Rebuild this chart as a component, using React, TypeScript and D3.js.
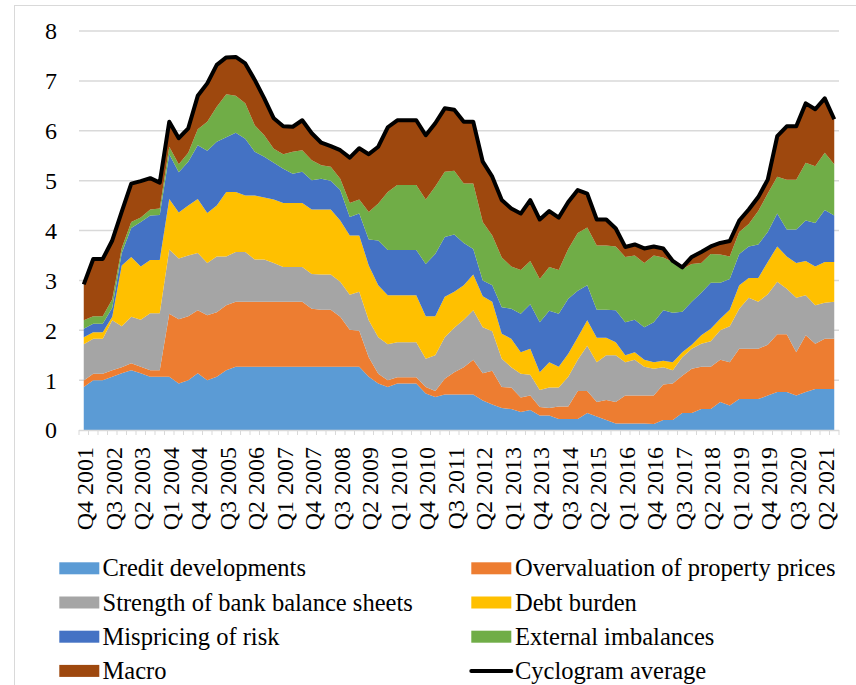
import React from "react";
import * as d3 from "d3";

// Quarterly observations, Q4 2001 – Q3 2021
const quarters: string[] = d3.range(80).map((i) => {
  const q = ((3 + i) % 4) + 1;
  const yr = 2001 + Math.floor((3 + i) / 4);
  return `Q${q} ${yr}`;
});

const tickLabels = [
  "Q4 2001", "Q3 2002", "Q2 2003", "Q1 2004", "Q4 2004", "Q3 2005", "Q2 2006",
  "Q1 2007", "Q4 2007", "Q3 2008", "Q2 2009", "Q1 2010", "Q4 2010", "Q3 2011",
  "Q2 2012", "Q1 2013", "Q4 2013", "Q3 2014", "Q2 2015", "Q1 2016", "Q4 2016",
  "Q3 2017", "Q2 2018", "Q1 2019", "Q4 2019", "Q3 2020", "Q2 2021",
];

const yTicks = [0, 1, 2, 3, 4, 5, 6, 7, 8];

const credit = [
  0.86, 1.0, 1.0, 1.07, 1.14, 1.2, 1.14, 1.07, 1.07, 1.07,
  0.93, 1.0, 1.14, 1.0, 1.07, 1.2, 1.27, 1.27, 1.27, 1.27,
  1.27, 1.27, 1.27, 1.27, 1.27, 1.27, 1.27, 1.27, 1.27, 1.27,
  1.07, 0.93, 0.86, 0.93, 0.93, 0.93, 0.73, 0.66, 0.71, 0.71,
  0.71, 0.71, 0.59, 0.51, 0.44, 0.42, 0.36, 0.4, 0.29, 0.29,
  0.22, 0.22, 0.22, 0.34, 0.27, 0.2, 0.13, 0.13, 0.13, 0.13,
  0.12, 0.2, 0.2, 0.34, 0.34, 0.42, 0.42, 0.56, 0.49, 0.62,
  0.62, 0.62, 0.69, 0.76, 0.76, 0.69, 0.76, 0.82, 0.82, 0.82,
];

const property = [
  0.13, 0.13, 0.13, 0.13, 0.12, 0.14, 0.13, 0.13, 0.13, 1.26,
  1.29, 1.28, 1.26, 1.3, 1.29, 1.3, 1.3, 1.3, 1.3, 1.3,
  1.3, 1.3, 1.3, 1.3, 1.16, 1.14, 1.14, 1.0, 0.74, 0.72,
  0.39, 0.2, 0.14, 0.13, 0.13, 0.13, 0.13, 0.12, 0.32, 0.45,
  0.55, 0.7, 0.55, 0.68, 0.42, 0.43, 0.29, 0.29, 0.17, 0.15,
  0.25, 0.25, 0.56, 0.44, 0.29, 0.4, 0.43, 0.56, 0.56, 0.56,
  0.57, 0.71, 0.73, 0.75, 0.89, 0.85, 0.85, 0.85, 0.87, 1.01,
  1.01, 1.01, 1.02, 1.16, 1.16, 0.87, 1.14, 0.91, 1.01, 1.01,
];

const bank = [
  0.73, 0.7, 0.7, 1.0, 0.82, 0.93, 0.94, 1.14, 1.14, 1.29,
  1.22, 1.22, 1.15, 1.05, 1.12, 0.98, 1.0, 1.0, 0.85, 0.85,
  0.78, 0.7, 0.7, 0.7, 0.7, 0.71, 0.71, 0.7, 0.7, 0.78,
  0.74, 0.73, 0.72, 0.7, 0.7, 0.7, 0.57, 0.72, 0.83, 0.89,
  0.95, 0.99, 0.92, 0.79, 0.57, 0.41, 0.48, 0.42, 0.34, 0.41,
  0.38, 0.6, 0.63, 0.91, 0.8, 0.9, 0.94, 0.67, 0.72, 0.58,
  0.54, 0.35, 0.27, 0.37, 0.4, 0.46, 0.51, 0.59, 0.72, 0.8,
  1.02, 0.94, 1.01, 1.05, 0.91, 1.09, 0.8, 0.77, 0.72, 0.74,
];

const debt = [
  0.14, 0.13, 0.13, 0.07, 1.22, 1.2, 1.07, 1.07, 1.07, 1.01,
  0.92, 1.0, 1.08, 1.0, 1.02, 1.29, 1.2, 1.13, 1.28, 1.24,
  1.27, 1.28, 1.28, 1.28, 1.29, 1.3, 1.3, 1.23, 1.19, 1.13,
  1.1, 1.04, 0.98, 0.94, 0.94, 0.94, 0.85, 0.78, 0.81, 0.72,
  0.69, 0.72, 0.62, 0.59, 0.5, 0.57, 0.43, 0.52, 0.36, 0.51,
  0.42, 0.46, 0.45, 0.51, 0.49, 0.35, 0.26, 0.14, 0.15, 0.14,
  0.13, 0.13, 0.16, 0.1, 0.08, 0.17, 0.25, 0.23, 0.33, 0.47,
  0.4, 0.48, 0.65, 0.71, 0.65, 0.7, 0.69, 0.78, 0.82, 0.8,
];

const risk = [
  0.17, 0.17, 0.17, 0.18, 0.25, 0.58, 0.89, 0.89, 0.9, 0.9,
  0.81, 0.88, 1.08, 1.25, 1.28, 1.1, 1.19, 1.14, 0.88, 0.82,
  0.74, 0.69, 0.59, 0.63, 0.59, 0.62, 0.58, 0.61, 0.37, 0.44,
  0.52, 0.9, 0.91, 0.91, 0.91, 0.91, 1.05, 1.25, 1.2, 1.15,
  0.85, 0.51, 0.32, 0.33, 0.53, 0.6, 0.77, 0.89, 1.0, 1.03,
  1.06, 1.1, 0.93, 0.7, 0.56, 0.56, 0.64, 0.66, 0.65, 0.65,
  0.8, 1.01, 0.99, 0.81, 0.86, 0.85, 0.92, 0.72, 0.62, 0.63,
  0.63, 0.67, 0.6, 0.66, 0.54, 0.67, 0.81, 0.87, 1.04, 0.93,
];

const external = [
  0.17, 0.15, 0.15, 0.17, 0.1, 0.12, 0.09, 0.12, 0.13, 0.15,
  0.16, 0.18, 0.32, 0.58, 0.7, 0.86, 0.74, 0.71, 0.53, 0.43,
  0.28, 0.29, 0.44, 0.43, 0.4, 0.27, 0.28, 0.23, 0.28, 0.28,
  0.55, 0.74, 1.16, 1.3, 1.3, 1.3, 1.29, 1.35, 1.31, 1.28,
  1.19, 1.31, 1.17, 1.0, 1.0, 0.85, 0.88, 0.87, 0.87, 0.88,
  0.88, 1.0, 1.16, 1.16, 1.29, 1.29, 1.28, 1.31, 1.29, 1.29,
  1.34, 1.06, 1.02, 0.86, 0.76, 0.6, 0.58, 0.57, 0.45, 0.44,
  0.45, 0.67, 0.77, 0.74, 1.0, 1.0, 1.16, 1.14, 1.15, 1.03,
];

const macro = [
  0.72, 1.15, 1.15, 1.18, 0.73, 0.77, 0.73, 0.63, 0.52, 0.5,
  0.52, 0.49, 0.67, 0.77, 0.84, 0.74, 0.78, 0.8, 0.91, 0.74,
  0.61, 0.56, 0.5, 0.6, 0.54, 0.45, 0.41, 0.57, 0.91, 1.03,
  1.16, 1.14, 1.3, 1.3, 1.3, 1.3, 1.29, 1.27, 1.27, 1.22,
  1.24, 1.24, 1.21, 1.18, 1.15, 1.16, 1.13, 1.22, 1.19, 1.12,
  1.05, 0.94, 0.86, 0.68, 0.52, 0.52, 0.36, 0.2, 0.22, 0.29,
  0.18, 0.18, 0.02, 0.03, 0.14, 0.22, 0.15, 0.23, 0.31, 0.23,
  0.29, 0.28, 0.28, 0.81, 1.07, 1.07, 1.19, 1.14, 1.09, 0.9,
];

const seriesNames = [
  "Credit developments",
  "Overvaluation of property prices",
  "Strength of bank balance sheets",
  "Debt burden",
  "Mispricing of risk",
  "External imbalances",
  "Macro",
];
const seriesValues = [credit, property, bank, debt, risk, external, macro];
const seriesColors = ["#5b9bd5", "#ed7d31", "#a5a5a5", "#ffc000", "#4472c4", "#70ad47", "#9e480e"];
const lineName = "Cyclogram average";

// Legend order, two columns; -1 marks the line entry
const legendOrder = [0, 1, 2, 3, 4, 5, 6, -1];

const W = 856;
const H = 685;
const plot = { left: 79, right: 839, top: 31, bottom: 430 };
const FONT = "'Liberation Serif', 'Times New Roman', serif";

export default function App() {
  const rows = quarters.map((q, i) => {
    const r: Record<string, number | string> = { q };
    seriesNames.forEach((n, k) => (r[n] = seriesValues[k][i]));
    return r;
  });

  const x = d3.scalePoint<string>().domain(quarters).range([plot.left, plot.right]).padding(0.5);
  const y = d3.scaleLinear().domain([0, 8]).range([plot.bottom, plot.top]);
  const step = x.step();

  const stacked = d3.stack<any>().keys(seriesNames)(rows);
  const area = d3
    .area<any>()
    .x((d) => x(d.data.q) as number)
    .y0((d) => y(d[0]))
    .y1((d) => y(d[1]));

  const totals = quarters.map((q, i) => ({ q, v: d3.sum(seriesValues, (s) => s[i]) }));
  const line = d3
    .line<{ q: string; v: number }>()
    .x((d) => x(d.q) as number)
    .y((d) => y(d.v));

  const tickXs = d3.range(quarters.length + 1).map((k) => plot.left + k * step);

  return (
    <svg
      width={W}
      height={H}
      style={{ position: "absolute", left: 0, top: 0, background: "#fff" }}
      fontFamily={FONT}
    >
      <rect x={14.5} y={5.5} width={900} height={760} fill="#fff" stroke="#d9d9d9" strokeWidth={1} />

      {/* horizontal gridlines */}
      {yTicks
        .filter((t) => t > 0)
        .map((t) => (
          <line key={t} x1={plot.left} x2={plot.right} y1={y(t)} y2={y(t)} stroke="#d9d9d9" strokeWidth={1.5} />
        ))}

      {/* stacked areas */}
      {stacked.map((s, k) => (
        <path key={s.key} d={area(s) as string} fill={seriesColors[k]} />
      ))}

      {/* total line */}
      <path d={line(totals) as string} fill="none" stroke="#000" strokeWidth={4} strokeLinejoin="round" />

      {/* category axis */}
      <line x1={plot.left} x2={plot.right} y1={plot.bottom + 0.5} y2={plot.bottom + 0.5} stroke="#d9d9d9" strokeWidth={1.5} />
      {tickXs.map((tx, k) => (
        <line key={k} x1={tx} x2={tx} y1={plot.bottom} y2={plot.bottom + 5} stroke="#d9d9d9" strokeWidth={1} />
      ))}

      {/* y tick labels */}
      {yTicks.map((t) => (
        <text key={t} x={57} y={y(t)} dy="0.35em" textAnchor="end" fontSize={24} fill="#000">
          {t}
        </text>
      ))}

      {/* x tick labels */}
      {tickLabels.map((lab) => {
        const px = (x(lab) as number) + 1;
        return (
          <text
            key={lab}
            transform={`translate(${px},447) rotate(-90)`}
            dy="0.35em"
            textAnchor="end"
            fontSize={24}
            fill="#000"
          >
            {lab}
          </text>
        );
      })}

      {/* legend */}
      {legendOrder.map((idx, n) => {
        const col = n % 2;
        const row = Math.floor(n / 2);
        const sx = col === 0 ? 59.3 : 471.3;
        const tx = col === 0 ? 102.5 : 515;
        const cy = 568.3 + row * 34.2;
        const label = idx >= 0 ? seriesNames[idx] : lineName;
        return (
          <g key={label}>
            {idx >= 0 ? (
              <rect x={sx} y={cy - 6} width={40} height={12} fill={seriesColors[idx]} />
            ) : (
              <line x1={sx} x2={sx + 40} y1={cy} y2={cy} stroke="#000" strokeWidth={4} strokeLinecap="round" />
            )}
            <text x={tx} y={cy + 8} fontSize={24.5} fill="#000">
              {label}
            </text>
          </g>
        );
      })}
    </svg>
  );
}
